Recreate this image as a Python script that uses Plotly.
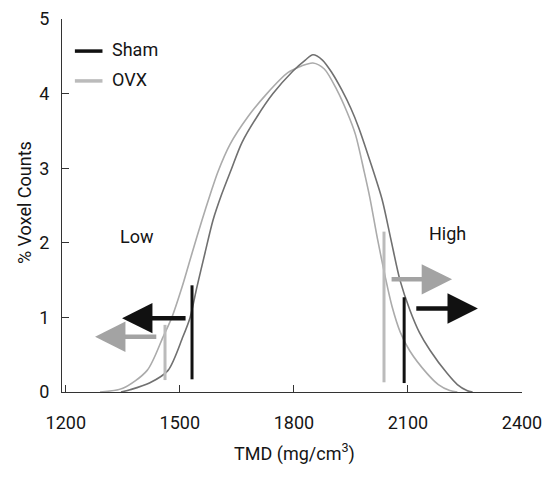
import plotly.graph_objects as go

# ---- data ----
sham_x = [1345, 1369, 1420, 1469, 1508, 1527, 1545, 1566, 1587, 1610, 1635, 1663, 1703, 1745, 1797,
          1830, 1850, 1875, 1900, 1926, 1950, 1970, 2000, 2032, 2055, 2079, 2105, 2130, 2158,
          2203, 2230, 2255, 2270]
sham_y = [0.0, 0.03, 0.12, 0.29, 0.74, 1.0, 1.41, 1.86, 2.3, 2.65, 2.98, 3.34, 3.69, 4.0, 4.3,
          4.45, 4.52, 4.45, 4.28, 4.05, 3.8, 3.55, 3.1, 2.58, 2.05, 1.5, 1.1, 0.8, 0.56,
          0.25, 0.1, 0.02, 0.0]

ovx_x = [1290, 1350, 1414, 1456, 1479, 1506, 1532, 1558, 1580, 1600, 1632, 1679, 1729, 1784, 1820,
         1850, 1880, 1913, 1940, 1962, 1985, 2000, 2020, 2040, 2058, 2080, 2105, 2150, 2180,
         2210, 2230]
ovx_y = [0.0, 0.05, 0.29, 0.74, 1.0, 1.41, 1.86, 2.3, 2.65, 2.95, 3.32, 3.69, 4.0, 4.28, 4.37,
         4.41, 4.33, 4.05, 3.75, 3.45, 2.95, 2.6, 2.05, 1.55, 1.15, 0.8, 0.55, 0.25, 0.1,
         0.02, 0.0]

# threshold markers: x position, bottom, top
thr_sham_x = [1532, 2090]
thr_sham_y0 = [0.17, 0.12]
thr_sham_y1 = [1.43, 1.27]
thr_ovx_x = [1461, 2037]
thr_ovx_y0 = [0.16, 0.13]
thr_ovx_y1 = [0.90, 2.15]

# arrows: tail x, tip x, y, colour
arrow_tail = [1519, 1442, 2053, 2118]
arrow_tip = [1348, 1277, 2216, 2284]
arrow_y = [0.99, 0.74, 1.51, 1.12]
arrow_col = ["#111111", "#a3a3a3", "#a3a3a3", "#111111"]

x_ticks = [1200, 1500, 1800, 2100, 2400]
y_ticks = [0, 1, 2, 3, 4, 5]

FONT = "Roboto, sans-serif"
FS = 18
TXT = "#151515"
SHAM_C = "#707070"
OVX_C = "#ababab"

fig = go.Figure()
fig.add_trace(go.Scatter(x=ovx_x, y=ovx_y, mode="lines", name="OVX",
                         line=dict(color=OVX_C, width=1.6, shape="spline", smoothing=0.8),
                         showlegend=False))
fig.add_trace(go.Scatter(x=sham_x, y=sham_y, mode="lines", name="Sham",
                         line=dict(color=SHAM_C, width=1.6, shape="spline", smoothing=0.8),
                         showlegend=False))

for x, a, b in zip(thr_ovx_x, thr_ovx_y0, thr_ovx_y1):
    fig.add_trace(go.Scatter(x=[x, x], y=[a, b], mode="lines",
                             line=dict(color="#bbbbbb", width=3), showlegend=False))
for x, a, b in zip(thr_sham_x, thr_sham_y0, thr_sham_y1):
    fig.add_trace(go.Scatter(x=[x, x], y=[a, b], mode="lines",
                             line=dict(color="#111111", width=3), showlegend=False))

annotations = []
for t, h, y, c in zip(arrow_tail, arrow_tip, arrow_y, arrow_col):
    annotations.append(dict(x=h, y=y, ax=t, ay=y, xref="x", yref="y", axref="x", ayref="y",
                            text="", showarrow=True, arrowhead=2, arrowwidth=4.5,
                            arrowsize=1.35, arrowcolor=c))

annotations.append(dict(x=1387, y=2.09, xref="x", yref="y", text="Low", showarrow=False,
                        font=dict(family=FONT, size=FS, color=TXT)))
annotations.append(dict(x=2203, y=2.12, xref="x", yref="y", text="High", showarrow=False,
                        font=dict(family=FONT, size=FS, color=TXT)))

# axis titles
annotations.append(dict(x=0.5065, y=-0.161, xref="paper", yref="paper",
                        text="TMD (mg/cm<sup>3</sup>)", showarrow=False,
                        xanchor="center", yanchor="middle",
                        font=dict(family=FONT, size=FS, color=TXT)))
annotations.append(dict(x=-0.080, y=0.507, xref="paper", yref="paper",
                        text="% Voxel Counts", showarrow=False, textangle=-90,
                        xanchor="center", yanchor="middle",
                        font=dict(family=FONT, size=FS, color=TXT)))

# legend (manual)
annotations.append(dict(x=0.105, y=0.917, xref="paper", yref="paper", text="Sham",
                        showarrow=False, xanchor="left", yanchor="middle",
                        font=dict(family=FONT, size=FS, color=TXT)))
annotations.append(dict(x=0.105, y=0.837, xref="paper", yref="paper", text="OVX",
                        showarrow=False, xanchor="left", yanchor="middle",
                        font=dict(family=FONT, size=FS, color=TXT)))
shapes = [
    dict(type="line", xref="paper", yref="paper", x0=0.028, x1=0.088, y0=0.914, y1=0.914,
         line=dict(color="#111111", width=3.5)),
    dict(type="line", xref="paper", yref="paper", x0=0.028, x1=0.088, y0=0.834, y1=0.834,
         line=dict(color="#bbbbbb", width=3.5)),
]

fig.update_layout(
    width=547, height=488,
    margin=dict(l=62, r=25, t=19, b=96),
    plot_bgcolor="white", paper_bgcolor="white",
    font=dict(family=FONT, size=FS, color=TXT),
    annotations=annotations, shapes=shapes,
    xaxis=dict(range=[1190, 2400], tickvals=x_ticks, ticks="inside", ticklen=7,
               tickcolor="#333", showline=True, linecolor="#333", linewidth=1,
               showgrid=False, zeroline=False, ticklabelstandoff=14, automargin=False),
    yaxis=dict(range=[0, 5], tickvals=y_ticks, ticks="inside", ticklen=7,
               tickcolor="#333", showline=True, linecolor="#333", linewidth=1,
               showgrid=False, zeroline=False, ticklabelstandoff=8, automargin=False),
)

fig.write_html("out.html", config={"displayModeBar": False},
               post_script="document.body.style.margin='0';")
